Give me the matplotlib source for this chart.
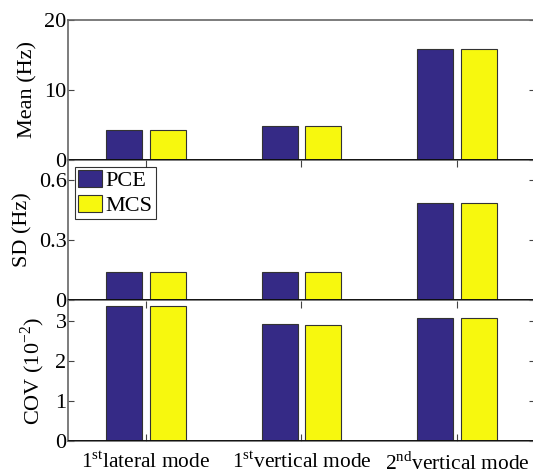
import matplotlib
matplotlib.use('Agg')
import matplotlib.pyplot as plt
import numpy as np

# data
modes = ['1$^{\\rm st}$lateral mode', '1$^{\\rm st}$vertical mode', '2$^{\\rm nd}$vertical mode']
mean_pce = [4.3, 4.9, 15.8]
mean_mcs = [4.3, 4.9, 15.8]
sd_pce = [0.142, 0.139, 0.485]
sd_mcs = [0.142, 0.139, 0.483]
cov_pce = [3.37, 2.92, 3.07]
cov_mcs = [3.37, 2.91, 3.07]

pce_color = '#352A86'
mcs_color = '#F7F80E'

plt.rcParams['font.family'] = ['Liberation Serif', 'DejaVu Serif']
plt.rcParams['mathtext.fontset'] = 'custom'
plt.rcParams['mathtext.rm'] = 'Liberation Serif'
plt.rcParams['font.size'] = 16

fig = plt.figure(figsize=(5.33, 4.75), dpi=100)
W, H = 533.0, 475.0
left = 68 / W
width = 467 / W
tops = [20, 160, 301]
bots = [160, 300, 441]
ylims = [(0, 20), (0, 0.7), (0, 3.5)]
yticks = [[0, 10, 20], [0, 0.3, 0.6], [0, 1, 2, 3]]
yticklabels = [['0', '10', '20'], ['0', '0.3', '0.6'], ['0', '1', '2', '3']]
ylabels = ['Mean (Hz)', 'SD (Hz)', 'COV (10$^{-2}$)']
label_x = [-0.066, -0.077, -0.045]
series = [(mean_pce, mean_mcs), (sd_pce, sd_mcs), (cov_pce, cov_mcs)]

x = np.arange(1, len(modes) + 1)
bw = 0.23
off = 0.14

for i in range(3):
    ax = fig.add_axes([left, 1 - bots[i] / H, width, (bots[i] - tops[i]) / H])
    ax.patch.set_alpha(0)
    p, m = series[i]
    ax.bar(x - off, p, bw, color=pce_color, edgecolor='#333333', linewidth=0.8, label='PCE', zorder=2)
    ax.bar(x + off, m, bw, color=mcs_color, edgecolor='#333333', linewidth=0.8, label='MCS', zorder=2)
    ax.axhline(0, color='black', linewidth=1.2, zorder=3)
    ax.set_xlim(0.5, 3.5)
    ax.set_ylim(*ylims[i])
    ax.set_yticks(yticks[i])
    ax.set_yticklabels(yticklabels[i])
    ax.set_ylabel(ylabels[i], fontsize=16)
    ax.yaxis.set_label_coords(label_x[i], 0.5)
    ax.set_xticks(x)
    for s in ax.spines.values():
        s.set_color('#666666')
        s.set_linewidth(1.2)
    if i > 0:
        ax.spines['top'].set_visible(False)
    ax.tick_params(axis='y', direction='in', length=4, right=True, color='#444444', pad=1)
    ax.tick_params(axis='x', direction='in', length=5, color='#444444',
                   bottom=(i == 2), top=(i > 0), labelbottom=(i == 2))
    if i == 2:
        ax.set_xticklabels(modes, fontsize=15.4)
        ax.tick_params(axis='x', pad=8)
    if i == 1:
        leg = ax.legend(loc='upper left', frameon=True, fancybox=False, borderpad=0.15,
                        handlelength=1.1, handleheight=0.8, handletextpad=0.15,
                        labelspacing=0.15, borderaxespad=0.3, fontsize=16)
        leg.get_frame().set_edgecolor('black')
        leg.get_frame().set_linewidth(0.8)

fig.savefig('out.png', dpi=100)
